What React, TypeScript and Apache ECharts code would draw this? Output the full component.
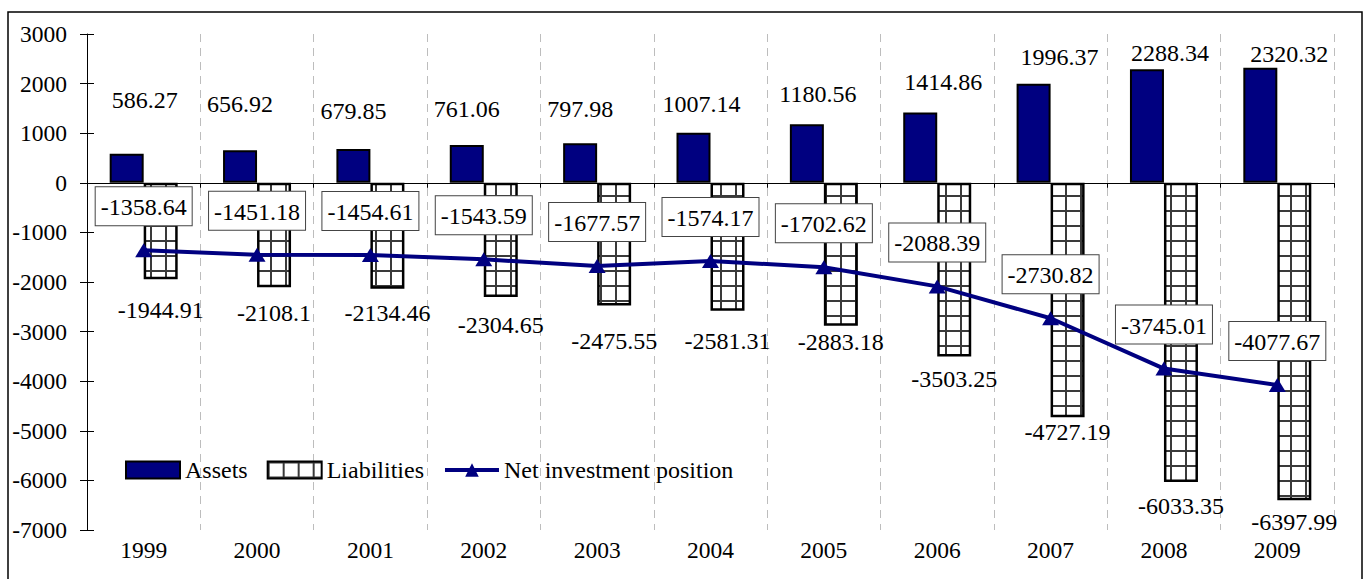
import React, { useEffect, useRef } from "react";
import * as echarts from "echarts";

const years = ["1999", "2000", "2001", "2002", "2003", "2004", "2005", "2006", "2007", "2008", "2009"];
const assets = [586.27, 656.92, 679.85, 761.06, 797.98, 1007.14, 1180.56, 1414.86, 1996.37, 2288.34, 2320.32];
const liabilities = [-1944.91, -2108.1, -2134.46, -2304.65, -2475.55, -2581.31, -2883.18, -3503.25, -4727.19, -6033.35, -6397.99];
const netPosition = [-1358.64, -1451.18, -1454.61, -1543.59, -1677.57, -1574.17, -1702.62, -2088.39, -2730.82, -3745.01, -4077.67];
const yMin = -7000;
const yMax = 3000;
const yStep = 1000;

// label placement tweaks (style only)
const assetLabelDx = [18, 0, 0, 0, 0, 8, 11, 23, 26, 23, 29];
const assetLabelLift = [55, 47, 39, 37, 35, 30, 31, 32, 28, 17, 15];
const liabLabelDrop = [31, 26, 24, 28, 35, 30, 16, 22, 15, 24, 22];

const FONT = "'Liberation Serif', 'Times New Roman', serif";
const NAVY = "#000080";

function makeGridPattern() {
  const size = 15;
  const c = document.createElement("canvas");
  c.width = size;
  c.height = size;
  const ctx = c.getContext("2d")!;
  ctx.fillStyle = "#ffffff";
  ctx.fillRect(0, 0, size, size);
  ctx.fillStyle = "#3a3a3a";
  ctx.fillRect(0, 0, 2, size);
  ctx.fillRect(0, 0, size, 2);
  return { image: c, repeat: "repeat", imageWidth: size, imageHeight: size };
}

export default function App() {
  const ref = useRef<HTMLDivElement>(null);
  useEffect(() => {
    if (!ref.current) return;
    const chart = echarts.init(ref.current, null, { renderer: "svg" });
    const pattern = makeGridPattern();
    const option: any = {
      animation: false,
      textStyle: { fontFamily: FONT },
      graphic: [
        {
          type: "rect",
          shape: { x: 8, y: 12, width: 1354, height: 620 },
          style: { fill: "none", stroke: "#000", lineWidth: 1.5 },
          silent: true,
          z: -10,
        },
      ],
      grid: { left: 87, right: 32, top: 34, bottom: 49, containLabel: false },
      legend: {
        left: 120,
        top: 453,
        itemWidth: 54,
        itemHeight: 17,
        itemGap: 19,
        textStyle: { fontFamily: FONT, fontSize: 24, color: "#000" },
        data: [
          { name: "Assets", icon: "rect" },
          { name: "Liabilities", icon: "rect" },
          {
            name: "Net investment position",
            itemStyle: { color: NAVY },
            lineStyle: { color: NAVY, width: 4 },
          },
        ],
      },
      xAxis: [
        {
          type: "category",
          data: years,
          position: "bottom",
          axisLine: { onZero: true, lineStyle: { color: "#000", width: 1 } },
          axisTick: { show: true, length: 5, lineStyle: { color: "#000" } },
          axisLabel: { show: false },
          splitLine: { show: true, lineStyle: { color: "#bdbdbd", type: [8, 6], width: 1 } },
        },
        {
          type: "category",
          data: years,
          position: "bottom",
          axisLine: { show: false, onZero: false },
          axisTick: { show: false },
          axisLabel: { show: true, margin: 9, fontFamily: FONT, fontSize: 23.5, lineHeight: 22, color: "#000" },
          splitLine: { show: false },
        },
      ],
      yAxis: [
        {
          type: "value",
          min: yMin,
          max: yMax,
          interval: yStep,
          axisLine: { show: true, lineStyle: { color: "#000", width: 1 } },
          axisTick: { show: true, length: 7, lineStyle: { color: "#000" } },
          axisLabel: {
            margin: 20,
            fontFamily: FONT,
            fontSize: 23.5,
            color: "#000",
            formatter: (v: number) => String(v),
          },
          splitLine: { show: false },
        },
        {
          type: "value",
          min: yMin,
          max: yMax,
          interval: yStep,
          position: "left",
          axisLine: { show: false },
          axisTick: { show: true, inside: true, length: 7, lineStyle: { color: "#000" } },
          axisLabel: { show: false },
          splitLine: { show: false },
        },
      ],
      series: [
        {
          name: "Assets",
          type: "bar",
          barWidth: 34,
          barGap: "0%",
          itemStyle: { color: NAVY, borderColor: "#000", borderWidth: 2 },
          data: assets.map((v, i) => ({
            value: v,
            label: {
              show: true,
              position: "top",
              distance: 0,
              offset: [assetLabelDx[i], -(assetLabelLift[i] - 12)],
              fontFamily: FONT,
              fontSize: 24,
              lineHeight: 22,
              color: "#000",
            },
          })),
          z: 2,
        },
        {
          name: "Liabilities",
          type: "bar",
          barWidth: 34,
          barGap: "0%",
          itemStyle: { color: pattern, borderColor: "#000", borderWidth: 2.5 },
          data: liabilities.map((v, i) => ({
            value: v,
            label: {
              show: true,
              position: "bottom",
              distance: 0,
              offset: [0, liabLabelDrop[i] - 11],
              fontFamily: FONT,
              fontSize: 24,
              lineHeight: 22,
              color: "#000",
            },
          })),
          z: 2,
        },
        {
          name: "Net investment position",
          type: "line",
          data: netPosition,
          symbol: "triangle",
          symbolSize: [17, 14],
          itemStyle: { color: NAVY },
          lineStyle: { color: NAVY, width: 4 },
          label: {
            show: true,
            position: "top",
            distance: 18,
            fontFamily: FONT,
            fontSize: 24,
            color: "#000",
            backgroundColor: "#fff",
            borderColor: "#444",
            borderWidth: 1,
            padding: [8, 5, 6, 5],
          },
          z: 5,
        },
      ],
    };
    chart.setOption(option);
    return () => chart.dispose();
  }, []);
  return (
    <div
      ref={ref}
      style={{ position: "absolute", left: 0, top: 0, width: 1366, height: 579 }}
    />
  );
}
